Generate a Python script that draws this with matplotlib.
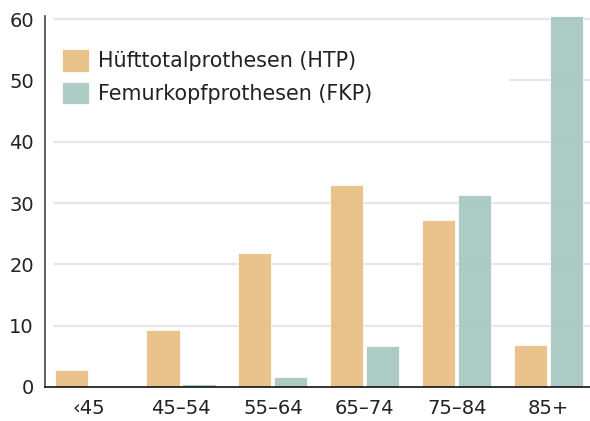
import matplotlib.pyplot as plt
import numpy as np

plt.rcParams['font.family'] = ['DejaVu Sans']

groups = ["‹45", "45–54", "55–64", "65–74", "75–84", "85+"]
htp = [2.8, 9.3, 21.9, 33.0, 27.2, 6.9]
fkp = [0.2, 0.5, 1.7, 6.7, 31.3, 60.5]
labels = ["Hüfttotalprothesen (HTP)", "Femurkopfprothesen (FKP)"]
yticks = [0, 10, 20, 30, 40, 50, 60]

col_htp = "#e8bd82"
col_fkp = "#a6c7c0"

fig = plt.figure(figsize=(5.9, 4.21), dpi=100)
ax = fig.add_axes([45 / 590, 34 / 421, 545 / 590, 371 / 421])

x = np.arange(len(groups))
w = 0.36
off = 0.196

# helle Gitterlinien, beginnen etwas rechts der Achse
for t in yticks[1:]:
    ax.axhline(t, xmin=10 / 545, xmax=1, color="#e6e6e6", lw=1.6, zorder=0)

ax.bar(x - off, htp, w, color=col_htp, alpha=0.92, edgecolor="white", lw=0.6, zorder=2, label=labels[0])
ax.bar(x + off, fkp, w, color=col_fkp, alpha=0.92, edgecolor="white", lw=0.6, zorder=2, label=labels[1])

ax.set_xlim(-0.48, 5.45)
ax.set_ylim(0, 60.5)
ax.set_xticks(x)
ax.set_xticklabels(groups)
ax.set_yticks(yticks)
ax.tick_params(axis="both", length=0, labelsize=14, colors="#222222")
ax.tick_params(axis="x", pad=9)
ax.tick_params(axis="y", pad=8)

for s in ["top", "right"]:
    ax.spines[s].set_visible(False)
ax.spines["left"].set_color("#444444")
ax.spines["left"].set_linewidth(1.2)
ax.spines["bottom"].set_color("#111111")
ax.spines["bottom"].set_linewidth(1.2)
ax.spines["bottom"].set_zorder(3)

leg = ax.legend(loc="upper left", bbox_to_anchor=(10 / 545, 0, 454 / 545, 0.93), mode="expand",
                fontsize=14.9, frameon=True, facecolor="white", edgecolor="none", framealpha=1,
                handlelength=1.3, handleheight=1.3, handletextpad=0.45, labelspacing=0.5,
                borderpad=0.34, borderaxespad=0, fancybox=False)
for t in leg.get_texts():
    t.set_color("#222222")
leg.set_zorder(1)

plt.savefig("out.png", dpi=100)
